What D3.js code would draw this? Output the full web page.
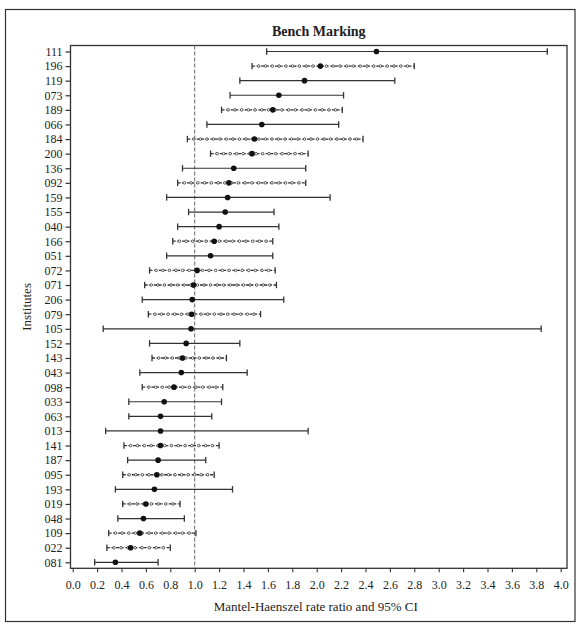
<!DOCTYPE html>
<html>
<head>
<meta charset="utf-8">
<script src="https://cdn.jsdelivr.net/npm/d3@7"></script>
<style>
  html, body { margin: 0; padding: 0; background: #fff; }
  svg { display: block; }
  text { font-family: "Liberation Serif", "Times New Roman", serif; fill: #222; }
</style>
</head>
<body>
<svg id="chart" width="577" height="624"></svg>
<script>
// Institutes, top to bottom
const institutes = ["111","196","119","073","189","066","184","200","136","092","159","155","040","166","051","072","071","206","079","105","152","143","043","098","033","063","013","141","187","095","193","019","048","109","022","081"];
// Mantel-Haenszel rate ratio (point estimate)
const rateRatio = [2.49,2.03,1.90,1.69,1.64,1.55,1.49,1.47,1.32,1.28,1.27,1.25,1.20,1.16,1.13,1.02,0.99,0.98,0.975,0.97,0.93,0.90,0.89,0.83,0.75,0.72,0.72,0.72,0.70,0.69,0.67,0.60,0.58,0.55,0.475,0.35];
// 95% CI lower bound
const ciLower = [1.59,1.47,1.37,1.29,1.22,1.10,0.94,1.13,0.90,0.86,0.77,0.95,0.86,0.82,0.77,0.63,0.59,0.57,0.62,0.25,0.63,0.65,0.55,0.57,0.46,0.46,0.27,0.42,0.45,0.41,0.35,0.41,0.37,0.295,0.28,0.18];
// 95% CI upper bound
const ciUpper = [3.89,2.80,2.64,2.22,2.21,2.18,2.38,1.93,1.91,1.91,2.11,1.65,1.69,1.64,1.64,1.66,1.67,1.73,1.54,3.84,1.37,1.26,1.43,1.23,1.22,1.14,1.93,1.20,1.09,1.16,1.31,0.88,0.915,1.01,0.80,0.70];
// x-axis tick labels
const xTicks = ["0.0","0.2","0.4","0.6","0.8","1.0","1.2","1.4","1.6","1.8","2.0","2.2","2.4","2.6","2.8","3.0","3.2","3.4","3.6","3.8","4.0"];
// Institutes whose interval is drawn with the broken line pattern
const brokenLine = ["196","189","184","200","092","166","072","071","079","143","098","141","095","019","109","022"];

const title = "Bench Marking";
const xTitle = "Mantel-Haenszel rate ratio and 95% CI";
const yTitle = "Institutes";

const svg = d3.select("#chart");
const frame = { left: 70.5, right: 567, top: 45.5, bottom: 568.3 };

const x = d3.scaleLinear().domain([0, 4]).range([72.7, 560.7]);
const y = d3.scalePoint().domain(institutes).range([frame.top, frame.bottom]).padding(0.41);

const rows = institutes.map((id, i) => ({ id, est: rateRatio[i], lo: ciLower[i], hi: ciUpper[i], broken: brokenLine.includes(id) }));

// outer border
svg.append("rect")
  .attr("x", 5.5).attr("y", 9.5).attr("width", 569.5).attr("height", 612)
  .attr("fill", "none").attr("stroke", "#333").attr("stroke-width", 1.2);

// title
svg.append("text")
  .attr("x", (frame.left + frame.right) / 2).attr("y", 36)
  .attr("text-anchor", "middle").attr("font-size", 14).attr("font-weight", "bold")
  .text(title);

// plot frame
svg.append("rect")
  .attr("x", frame.left).attr("y", frame.top)
  .attr("width", frame.right - frame.left).attr("height", frame.bottom - frame.top)
  .attr("fill", "none").attr("stroke", "#333").attr("stroke-width", 1.3);

// reference line at ratio 1
svg.append("line")
  .attr("x1", x(1)).attr("x2", x(1)).attr("y1", frame.top).attr("y2", frame.bottom)
  .attr("stroke", "#555").attr("stroke-width", 0.9).attr("stroke-dasharray", "4,2");

// y axis
const yAxis = svg.append("g")
  .attr("transform", `translate(${frame.left},0)`)
  .call(d3.axisLeft(y).tickSize(5).tickPadding(3));
yAxis.select(".domain").remove();
yAxis.selectAll(".tick line").attr("stroke", "#333").attr("stroke-width", 1.2);
yAxis.selectAll(".tick text").attr("font-size", 12).attr("font-family", "Liberation Serif, serif").attr("fill", "#222");

// x axis
const xAxis = svg.append("g")
  .attr("transform", `translate(0,${frame.bottom})`)
  .call(d3.axisBottom(x).tickValues(xTicks.map(Number)).tickFormat((d, i) => xTicks[i]).tickSize(4).tickPadding(8));
xAxis.select(".domain").remove();
xAxis.selectAll(".tick line").attr("stroke", "#333").attr("stroke-width", 1.1);
xAxis.selectAll(".tick text").attr("font-size", 12).attr("font-family", "Liberation Serif, serif").attr("fill", "#222");

// axis titles
svg.append("text")
  .attr("x", (frame.left + frame.right) / 2 - 3).attr("y", 611)
  .attr("text-anchor", "middle").attr("font-size", 13)
  .text(xTitle);
svg.append("text")
  .attr("transform", `translate(31,${(frame.top + frame.bottom) / 2}) rotate(-90)`)
  .attr("text-anchor", "middle").attr("font-size", 13)
  .text(yTitle);

// confidence intervals
const g = svg.append("g");
const row = g.selectAll("g.row").data(rows).join("g").attr("class", "row");

row.append("line")
  .attr("x1", d => x(d.lo)).attr("x2", d => x(d.hi))
  .attr("y1", d => y(d.id)).attr("y2", d => y(d.id))
  .attr("stroke", "#333")
  .attr("stroke-width", d => d.broken ? 1.3 : 1.2)
  .attr("stroke-dasharray", d => d.broken ? "3,1.6" : null);

// open beads along the broken-pattern intervals
row.filter(d => d.broken).each(function (d) {
  const n = Math.floor((x(d.hi) - x(d.lo)) / 6.5);
  const beads = d3.range(1, n).map(k => x(d.lo) + k * (x(d.hi) - x(d.lo)) / n);
  d3.select(this).selectAll("circle.bead").data(beads).join("circle")
    .attr("class", "bead")
    .attr("cx", b => b).attr("cy", y(d.id)).attr("r", 1.3)
    .attr("fill", "#fff").attr("stroke", "#333").attr("stroke-width", 0.8);
});

// end caps
["lo", "hi"].forEach(k => {
  row.append("line")
    .attr("x1", d => x(d[k])).attr("x2", d => x(d[k]))
    .attr("y1", d => y(d.id) - 3.2).attr("y2", d => y(d.id) + 3.2)
    .attr("stroke", "#333").attr("stroke-width", 1.3);
});

// point estimates
row.append("circle")
  .attr("cx", d => x(d.est)).attr("cy", d => y(d.id)).attr("r", 2.8)
  .attr("fill", "#111");
</script>
</body>
</html>
